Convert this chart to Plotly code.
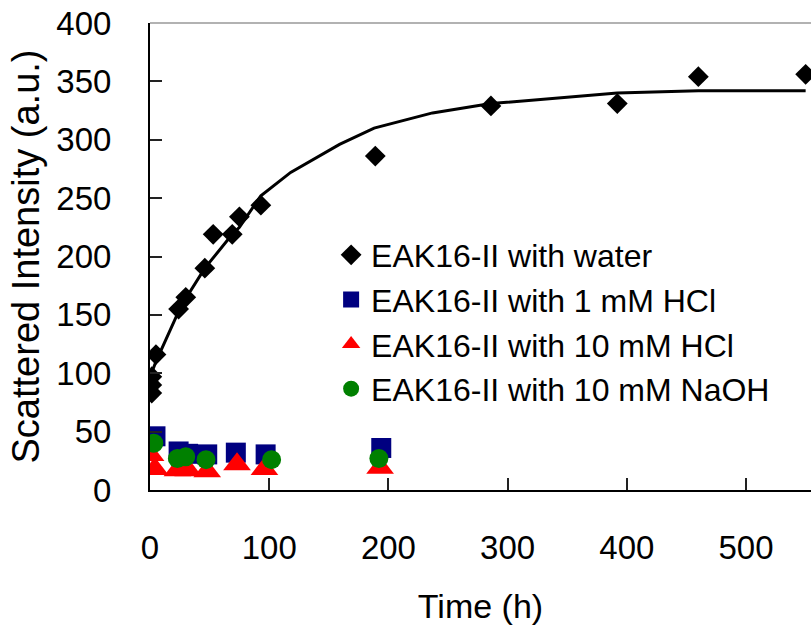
import plotly.graph_objects as go

# Data
water_t = [1.5, 1.5, 1.5, 5, 24, 30, 46, 53, 69, 75, 93, 189, 286, 392, 460, 550]
water_i = [83, 90, 97, 116, 155, 165, 190, 219, 219, 234, 244, 286, 329, 331, 354, 356]

fit_t = [0, 5, 24, 30, 46, 53, 69, 75, 93, 118, 159, 188, 237, 286, 392, 460, 550]
fit_i = [97, 110, 153, 164, 190, 199, 219, 225, 252, 272, 296, 310, 323, 331, 340, 342, 342]

hcl1_t = [4.6, 24, 32, 48, 72, 97, 194]
hcl1_i = [46, 33, 31, 30.5, 32, 30.5, 36]

hcl10_t = [0.5, 4, 23, 32, 48, 73, 96, 193]
hcl10_i = [30, 18, 17, 17, 16, 22, 18, 19]

naoh_t = [3.2, 23, 30, 47, 102, 192]
naoh_i = [40, 27, 28.5, 26, 26, 27]

x_ticks = [0, 100, 200, 300, 400, 500]
y_ticks = [0, 50, 100, 150, 200, 250, 300, 350, 400]

FONT = "Liberation Sans, Arial, sans-serif"

fig = go.Figure()
fig.add_trace(go.Scatter(x=fit_t, y=fit_i, mode="lines",
                         line=dict(color="black", width=3), showlegend=False,
                         hoverinfo="skip"))
fig.add_trace(go.Scatter(x=water_t, y=water_i, mode="markers", name="EAK16-II with water",
                         marker=dict(symbol="diamond", size=16, color="black")))
fig.add_trace(go.Scatter(x=hcl1_t, y=hcl1_i, mode="markers", name="EAK16-II with 1 mM HCl",
                         marker=dict(symbol="square", size=20, color="#000080")))
fig.add_trace(go.Scatter(x=hcl10_t, y=hcl10_i, mode="markers", name="EAK16-II with 10 mM HCl",
                         marker=dict(symbol="triangle-up", size=24, color="#ff0000")))
fig.add_trace(go.Scatter(x=naoh_t, y=naoh_i, mode="markers", name="EAK16-II with 10 mM NaOH",
                         marker=dict(symbol="circle", size=19, color="#008000")))

fig.update_layout(
    width=811, height=629,
    margin=dict(l=150, r=0, t=23, b=139),
    plot_bgcolor="white", paper_bgcolor="white",
    font=dict(family=FONT, color="black"),
    legend=dict(x=0.274, y=0.562, xanchor="left", yanchor="top",
                font=dict(size=32, family=FONT), bgcolor="rgba(0,0,0,0)",
                itemsizing="trace", tracegroupgap=0),
    xaxis=dict(range=[0, 554.5], tickvals=x_ticks, ticks="inside", ticklen=12,
               tickwidth=1.5, tickcolor="#222", showline=True, linecolor="black",
               linewidth=2, showgrid=False, zeroline=False,
               tickfont=dict(size=33, family=FONT), ticklabelstandoff=27,
               title=dict(text="Time (h)", font=dict(size=34, family=FONT), standoff=30),
               automargin=False),
    yaxis=dict(range=[0, 400], tickvals=y_ticks, ticks="inside", ticklen=12,
               tickwidth=1.5, tickcolor="#222", showline=True, linecolor="black",
               linewidth=2, showgrid=False, zeroline=False,
               tickfont=dict(size=33, family=FONT), ticklabelstandoff=30,
               title=dict(text="Scattered Intensity (a.u.)", font=dict(size=38, family=FONT),
                          standoff=5),
               automargin=False),
    shapes=[dict(type="line", xref="paper", yref="paper", x0=0, x1=1, y0=1, y1=1,
                 line=dict(color="#999999", width=1.5))],
)

fig.write_html("out.html")
